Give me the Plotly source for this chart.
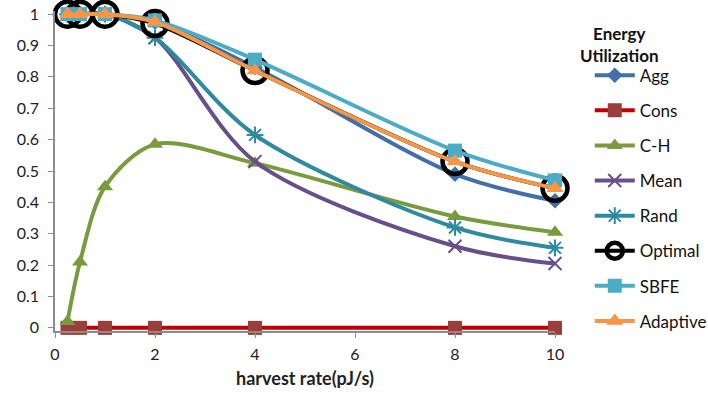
import plotly.graph_objects as go

x = [0.25, 0.5, 1, 2, 4, 8, 10]
agg = [1, 1, 1, 0.975, 0.83, 0.49, 0.405]
cons = [0, 0, 0, 0, 0, 0, 0]
ch = [0.02, 0.21, 0.45, 0.585, 0.525, 0.355, 0.305]
mean = [1, 1, 1, 0.925, 0.53, 0.26, 0.205]
rand = [1, 1, 1, 0.925, 0.615, 0.32, 0.255]
optimal = [1, 1, 1, 0.97, 0.82, 0.53, 0.445]
sbfe = [1, 1, 1, 0.98, 0.855, 0.565, 0.47]
adaptive = [1, 1, 1, 0.975, 0.82, 0.53, 0.445]

series = [
    ("Agg", agg, "#4170A8", "diamond", "#4170A8", 12, None),
    ("Cons", cons, "#C00000", "square", "#9B3D3A", 14, None),
    ("C-H", ch, "#7A9A3E", "triangle-up", "#7A9A3E", 14, None),
    ("Mean", mean, "#67508A", "x-thin-open", "#67508A", 13, 2),
    ("Rand", rand, "#2F8AA0", "asterisk-open", "#2F8AA0", 14, 2),
    ("Optimal", optimal, "#000000", "circle-open", "#000000", 25, 4.5),
    ("SBFE", sbfe, "#4BACC6", "square", "#4BACC6", 14, None),
    ("Adaptive", adaptive, "#F79646", "triangle-up", "#F79646", 15, None),
]

fig = go.Figure()
for name, ys, lc, sym, mc, ms, mlw in series:
    marker = dict(symbol=sym, color=mc, size=ms)
    if mlw:
        marker["line"] = dict(color=mc, width=mlw)
    fig.add_trace(go.Scatter(
        x=x, y=ys, name=name, mode="lines+markers",
        line=dict(color=lc, width=4, shape="spline", smoothing=0.9),
        marker=marker, legendgroup=name, cliponaxis=False,
    ))

fig.update_layout(
    width=708, height=398,
    margin=dict(l=55, r=153, t=11, b=67, autoexpand=False),
    paper_bgcolor="white", plot_bgcolor="white",
    font=dict(family="Lato, Open Sans, sans-serif", size=16, color="#222222"),
    showlegend=True,
    legend=dict(x=0.833, y=0.855, xref="container", yref="container",
                xanchor="left", yanchor="top", maxheight=390,
                tracegroupgap=10, font=dict(size=17, color="#111111"),
                itemwidth=40, bgcolor="rgba(0,0,0,0)"),
    xaxis=dict(range=[0, 10], tickvals=[0, 2, 4, 6, 8, 10], showgrid=False,
               zeroline=False, showline=True, linecolor="#8C8C8C", linewidth=1.5,
               ticks="outside", ticklen=5, tickcolor="#8C8C8C", automargin=False,
               ticklabelstandoff=3,
               title=dict(text="<b>harvest rate(pJ/s)</b>", font=dict(size=18), standoff=10)),
    yaxis=dict(range=[-0.01, 1.01], tickvals=[0, 0.1, 0.2, 0.3, 0.4, 0.5, 0.6, 0.7, 0.8, 0.9, 1],
               showgrid=False, zeroline=False, automargin=False,
               showline=True, linecolor="#8C8C8C", linewidth=1.5,
               ticks="outside", ticklen=5, tickcolor="#8C8C8C",
               ticklabelstandoff=6, tickformat="~g"),
    annotations=[dict(text="<b>Energy<br>Utilization</b>", xref="paper", yref="paper",
                      x=1.128, y=0.97, xanchor="center", yanchor="top",
                      showarrow=False, font=dict(size=17, color="#111111"), align="center")],
)

fig.write_html("out.html", config={"displayModeBar": False},
               post_script="document.body.style.margin='0';")
